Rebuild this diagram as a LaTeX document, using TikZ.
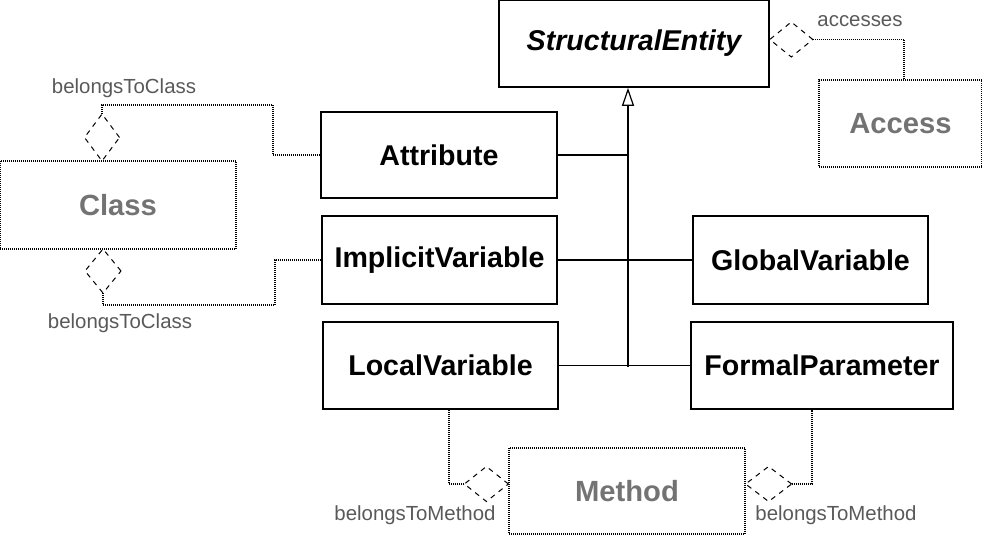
\documentclass[tikz,border=0pt]{standalone}
\usepackage{fontspec}
\setmainfont{Liberation Sans}
\usetikzlibrary{arrows.meta,shapes.geometric}
\tikzset{
    class-box/.style = {draw, line width=0.8pt, rectangle, inner sep=0pt, font=\bfseries\fontsize{14.3}{17}\selectfont},
    ghost-box/.style = {draw, line width=0.6pt, dash pattern=on 0.5pt off 0.5pt, rectangle, inner sep=0pt, text=black!55, font=\bfseries\fontsize{14.6}{17}\selectfont},
    agg/.style = {draw, diamond, line width=0.5pt, dash pattern=on 2.5pt off 2.5pt, inner sep=0pt, outer sep=0pt},
    link/.style = {line width=0.6pt, dash pattern=on 0.5pt off 0.5pt},
    role/.style = {text=black!65, font=\fontsize{10.2}{12}\selectfont, inner sep=0pt},
}

\begin{document}
\begin{tikzpicture}[x=0.5pt, y=-0.5pt]
\useasboundingbox (0,0) rectangle (982,535);

% the abstract parent
\node[class-box, minimum width=135pt, minimum height=43.5pt] (se) at (634,43.5) {\itshape StructuralEntity};

% its subclasses
\node[class-box, minimum width=118pt, minimum height=43pt] (attr) at (439,155) {Attribute};
\node[class-box, minimum width=117.5pt, minimum height=44pt] (impl) at (439.5,260) {ImplicitVariable};
\node[class-box, minimum width=117.5pt, minimum height=43.5pt] (local) at (440.5,365.5) {LocalVariable};
\node[class-box, minimum width=117.5pt, minimum height=44pt] (global) at (810.5,260) {GlobalVariable};
\node[class-box, minimum width=131pt, minimum height=43.5pt] (formal) at (822,365.5) {FormalParameter};

% owners, drawn in grey
\node[ghost-box, minimum width=118pt, minimum height=44pt] (class) at (118,205) {Class};
\node[ghost-box, minimum width=81.5pt, minimum height=43.5pt] (access) at (900.5,123.5) {Access};
\node[ghost-box, minimum width=118pt, minimum height=43pt] (method) at (627,491) {Method};

% generalisation
\coordinate (trunk) at (628,367);
\draw[line width=0.6pt, -{Triangle[open, length=9pt, width=6pt]}] (trunk) -- (trunk |- se.south);
\draw[line width=0.6pt] (attr.east) -- (attr.east -| trunk);
\draw[line width=0.6pt] (impl.east) -- (global.west);
\draw[line width=0.6pt] (local.east) -- (formal.west);

% aggregations
\node[agg, minimum width=21.5pt, minimum height=17.5pt, anchor=west] (d-acc) at (se.east |- 0,39.5) {};
\node[agg, minimum width=17.5pt, minimum height=23.5pt, anchor=south] (d-top) at (102,161) {};
\node[agg, minimum width=18pt, minimum height=22pt, anchor=north] (d-bot) at (103,249) {};
\node[agg, minimum width=22pt, minimum height=17.5pt, anchor=east] (d-left) at (method.west |- 0,484) {};
\node[agg, minimum width=23pt, minimum height=17.5pt, anchor=west] (d-right) at (method.east |- 0,484) {};

\draw[link] (d-acc.east) -| (904,0 |- access.north);
\draw[link] (d-top.north) |- (273,105) |- (attr.west);
\draw[link] (d-bot.south) |- (275,305) |- (impl.west);
\draw[link] (d-left.west) -| (449,0 |- local.south);
\draw[link] (d-right.east) -| (812,0 |- formal.south);

% role names
\node[role] (r-acc) at (860,21) {accesses};
\node[role] (r-top) at (124,88) {belongsToClass};
\node[role] (r-bot) at (120,323) {belongsToClass};
\node[role] (r-left) at (415,515) {belongsToMethod};
\node[role] (r-right) at (836,515) {belongsToMethod};
\end{tikzpicture}
\end{document}
